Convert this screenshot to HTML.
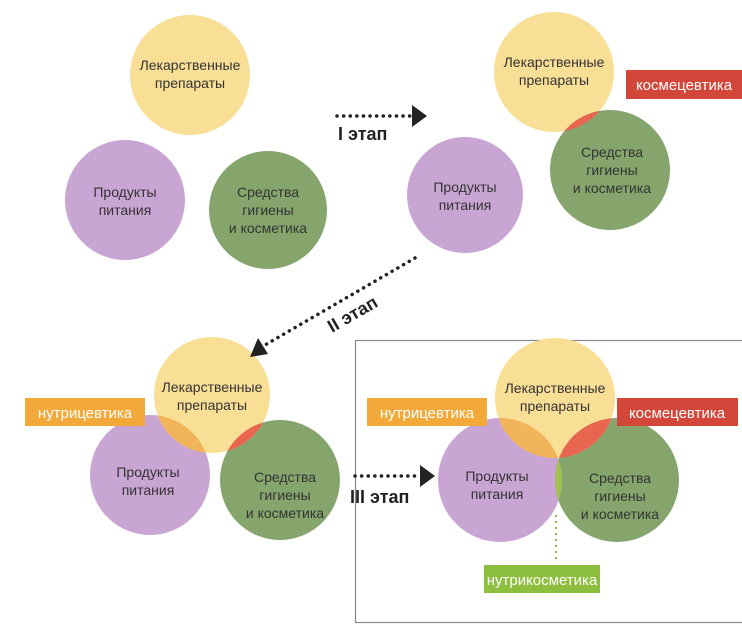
<!DOCTYPE html>
<html><head><meta charset="utf-8"><style>
html,body{margin:0;padding:0;background:#fff;}
svg{display:block;}
text{font-family:"Liberation Sans Narrow","Liberation Sans",sans-serif;}
</style></head><body>
<svg width="742" height="625" viewBox="0 0 742 625" xmlns="http://www.w3.org/2000/svg">
<defs>
<clipPath id="c1"><circle cx="554" cy="72" r="60"/></clipPath>
<clipPath id="c2"><circle cx="212" cy="395" r="58"/></clipPath>
<clipPath id="c3"><circle cx="555" cy="398" r="60"/></clipPath>
<clipPath id="c4"><circle cx="500" cy="480" r="62"/></clipPath>
</defs>
<rect x="355.5" y="340.5" width="390" height="282" fill="none" stroke="#888" stroke-width="1.2"/>

<g font-size="14" fill="#333" text-anchor="middle">
<!-- top-left -->
<circle cx="190" cy="75" r="60" fill="#f9df95"/>
<circle cx="125" cy="200" r="60" fill="#c9a5d4"/>
<circle cx="268" cy="210" r="59" fill="#86a56d"/>
<text x="190" y="70">Лекарственные</text><text x="190" y="88">препараты</text>
<text x="125" y="197">Продукты</text><text x="125" y="215">питания</text>
<text x="268" y="197">Средства</text><text x="268" y="215">гигиены</text><text x="268" y="233">и косметика</text>

<!-- top-right -->
<circle cx="465" cy="195" r="58" fill="#c9a5d4"/>
<circle cx="554" cy="72" r="60" fill="#f9df95"/>
<circle cx="610" cy="170" r="60" fill="#86a56d"/>
<circle cx="610" cy="170" r="60" fill="#e8664f" clip-path="url(#c1)"/>
<text x="554" y="67">Лекарственные</text><text x="554" y="85">препараты</text>
<text x="465" y="192">Продукты</text><text x="465" y="210">питания</text>
<text x="612" y="157">Средства</text><text x="612" y="175">гигиены</text><text x="612" y="193">и косметика</text>

<!-- bottom-left -->
<circle cx="150" cy="475" r="60" fill="#c9a5d4"/>
<circle cx="280" cy="480" r="60" fill="#86a56d"/>
<circle cx="212" cy="395" r="58" fill="#f9df95"/>
<circle cx="280" cy="480" r="60" fill="#e8664f" clip-path="url(#c2)"/>
<circle cx="150" cy="475" r="60" fill="#f2b45a" clip-path="url(#c2)"/>
<text x="212" y="392">Лекарственные</text><text x="212" y="410">препараты</text>
<text x="148" y="477">Продукты</text><text x="148" y="495">питания</text>
<text x="285" y="482">Средства</text><text x="285" y="500">гигиены</text><text x="285" y="518">и косметика</text>

<!-- bottom-right -->
<circle cx="500" cy="480" r="62" fill="#c9a5d4"/>
<circle cx="617" cy="480" r="62" fill="#86a56d"/>
<circle cx="555" cy="398" r="60" fill="#f9df95"/>
<circle cx="617" cy="480" r="62" fill="#e8664f" clip-path="url(#c3)"/>
<circle cx="500" cy="480" r="62" fill="#f2b45a" clip-path="url(#c3)"/>
<circle cx="617" cy="480" r="62" fill="#a3c052" clip-path="url(#c4)"/>
<text x="555" y="393">Лекарственные</text><text x="555" y="411">препараты</text>
<text x="497" y="481">Продукты</text><text x="497" y="499">питания</text>
<text x="620" y="483">Средства</text><text x="620" y="501">гигиены</text><text x="620" y="519">и косметика</text>
</g>

<!-- labels -->
<g font-size="15" fill="#fff" text-anchor="middle">
<rect x="626" y="70" width="116" height="29" fill="#d2473a"/><text x="684" y="90">космецевтика</text>
<rect x="25" y="398" width="120" height="28" fill="#f2a93a"/><text x="85" y="418">нутрицевтика</text>
<rect x="367" y="398" width="120" height="28" fill="#f2a93a"/><text x="427" y="418">нутрицевтика</text>
<rect x="617" y="398" width="121" height="28" fill="#d2473a"/><text x="677" y="418">космецевтика</text>
<rect x="484" y="565" width="116" height="28" fill="#8dbf3f"/><text x="542" y="585">нутрикосметика</text>
</g>
<line x1="556" y1="515" x2="556" y2="562" stroke="#9ab055" stroke-width="2" stroke-dasharray="2 4"/>

<!-- arrows -->
<g stroke="#222" stroke-width="3.5" stroke-linecap="round" stroke-dasharray="0.1 6.5" fill="none">
<line x1="337" y1="116" x2="412" y2="116"/>
<line x1="415" y1="258" x2="265" y2="345"/>
<line x1="355" y1="476" x2="420" y2="476"/>
</g>
<g fill="#222">
<polygon points="412,105 427,116 412,127"/>
<polygon points="250,357 258,338 268,354"/>
<polygon points="420,465 435,476 420,487"/>
</g>
<g font-family="Liberation Sans, sans-serif" font-weight="bold" font-size="18" fill="#222">
<text x="338" y="140">I этап</text>
<text x="0" y="0" transform="translate(332,333) rotate(-30)">II этап</text>
<text x="350" y="503">III этап</text>
</g>
</svg>
</body></html>
